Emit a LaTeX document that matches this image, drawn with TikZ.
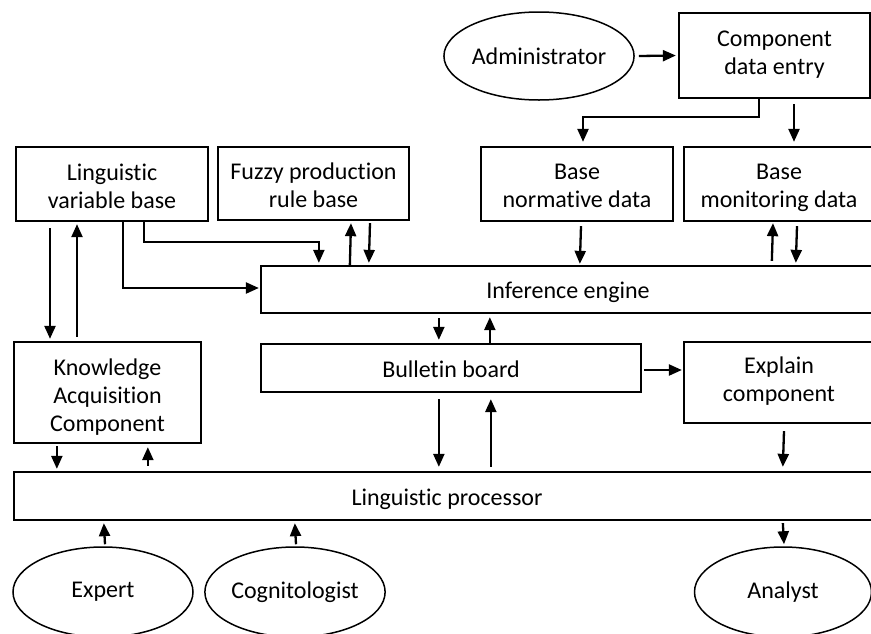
\documentclass[tikz,border=0pt]{standalone}
\usepackage{fontspec}
\setmainfont[Ligatures=NoCommon]{Carlito}
\usetikzlibrary{shapes.geometric,arrows.meta}

\begin{document}
\begin{tikzpicture}[
      x=1pt, y=-1pt,
      font=\fontsize{24}{28}\selectfont,
      line width=2.3pt,
      box/.style={draw, rectangle, align=center, inner sep=0pt,
        execute at begin node=\rule{0pt}{25pt},
        execute at end node=\rule[-6.4pt]{0pt}{6.4pt}},
      lowbox/.style={box, execute at begin node=\rule{0pt}{#1}},
      actor/.style={draw, ellipse, align=center, inner sep=0pt, line width=1.5pt},
      arr/.style={-{Triangle[length=13pt,width=11pt]}},]
  \useasboundingbox (0,0) rectangle (871,633);
  % upper row
  \node[actor, minimum width=180pt, minimum height=88pt] (adm) at (539,56) {Administrator};
  \node[box, minimum width=191pt, minimum height=85pt] (cde) at (774.5,55.5) {Component\\data entry};
  \node[lowbox=55pt, minimum width=192pt, minimum height=74pt] (lvb) at (112,184) {Linguistic\\variable base};
  \node[lowbox=55pt, minimum width=191pt, minimum height=73pt] (fpr) at (313.5,183.5) {Fuzzy production\\rule base};
  \node[lowbox=54pt, minimum width=192pt, minimum height=74pt] (bnd) at (577,184) {Base\\normative data};
  \node[lowbox=54pt, minimum width=190pt, minimum height=74pt] (bmd) at (779,184) {Base\\monitoring data};
  % middle
  \node[box, minimum width=614pt, minimum height=47pt] (ie) at (568,289.5) {Inference engine};
  \node[box, minimum width=380pt, minimum height=48pt] (bb) at (451,368) {Bulletin board};
  \node[box, minimum width=190pt, minimum height=81pt] (ec) at (779,382.5) {Explain\\component};
  \node[lowbox=85pt, minimum width=187pt, minimum height=101pt] (kac) at (107.5,392.5) {Knowledge\\Acquisition\\Component};
  \node[box, minimum width=866pt, minimum height=48pt] (lp) at (447,496) {Linguistic processor};
  % users
  \node[actor, minimum width=180pt, minimum height=90pt] (expert) at (103,592) {Expert};
  \node[actor, minimum width=176pt, minimum height=90pt] (cog) at (295,592) {Cognitologist};
  \node[actor, minimum width=177pt, minimum height=90pt] (analyst) at (783,592) {Analyst};

  % data entry
  \draw[arr] ([xshift=4pt]adm.east) -- ([xshift=-2pt]cde.west);
  \draw[arr] ([xshift=-15.5pt]cde.south) -- ++(0,18) -| ([xshift=6pt,yshift=4pt]bnd.north);
  \draw[arr] ([xshift=19.5pt,yshift=-5pt]cde.south) -- ([xshift=15pt,yshift=4pt]bmd.north);
  % knowledge bases
  \draw[arr] ([xshift=-62pt,yshift=-6pt]lvb.south) -- ([xshift=-57.5pt,yshift=2pt]kac.north);
  \draw[arr] ([xshift=-30.5pt,yshift=4pt]kac.north) -- ([xshift=-35pt,yshift=-2pt]lvb.south);
  \draw[arr] ([xshift=11pt]lvb.south) |- ([xshift=-1pt,yshift=1.5pt]ie.west);
  \draw[arr] ([xshift=32pt]lvb.south) -- ++(0,20) -| ([xshift=59pt,yshift=2pt]ie.north west);
  \draw[arr] ([xshift=90pt]ie.north west) -- ([xshift=37.5pt,yshift=-2pt]fpr.south);
  \draw[arr] ([xshift=56.5pt,yshift=-2pt]fpr.south) -- ([xshift=109pt,yshift=2pt]ie.north west);
  \draw[arr] ([xshift=4pt,yshift=-4pt]bnd.south) -- ([xshift=320pt,yshift=1pt]ie.north west);
  \draw[arr] ([xshift=512pt,yshift=4pt]ie.north west) -- ([xshift=-6pt,yshift=-1pt]bmd.south);
  \draw[arr] ([xshift=18pt,yshift=-4pt]bmd.south) -- ([xshift=536pt,yshift=2pt]ie.north west);
  % inference and bulletin board
  \draw[arr] ([xshift=179pt,yshift=-4pt]ie.south west) -- ([xshift=179pt,yshift=3pt]bb.north west);
  \draw[arr] ([xshift=230pt]bb.north west) -- ([xshift=230pt,yshift=-3pt]ie.south west);
  \draw[arr] ([xshift=2pt,yshift=-2pt]bb.east) -- ([xshift=-1pt,yshift=-2pt]bb.east -| ec.west);
  % linguistic processor
  \draw[arr] ([xshift=44pt,yshift=-2pt]kac.south west) -- ([xshift=44pt,yshift=2pt]lp.north west);
  \draw[arr] ([xshift=135pt,yshift=5pt]lp.north west) -- ([xshift=135pt,yshift=-3pt]kac.south west);
  \draw[arr] ([xshift=179pt,yshift=-6pt]bb.south west) -- ([xshift=426pt,yshift=4pt]lp.north west);
  \draw[arr] ([xshift=478pt,yshift=4pt]lp.north west) -- ([xshift=231pt,yshift=-6pt]bb.south west);
  \draw[arr] ([xshift=5pt,yshift=-7pt]ec.south) -- ([xshift=770pt,yshift=4pt]lp.north west);
  \draw[arr] ([xshift=770pt,yshift=-2pt]lp.south west) -- ([xshift=1pt,yshift=2pt]analyst.north);
  \draw[arr] ([xshift=2pt,yshift=2pt]expert.north) -- ([xshift=91pt,yshift=-2pt]lp.south west);
  \draw[arr] ([xshift=1pt,yshift=2pt]cog.north) -- ([xshift=282pt,yshift=-2pt]lp.south west);
\end{tikzpicture}
\end{document}
